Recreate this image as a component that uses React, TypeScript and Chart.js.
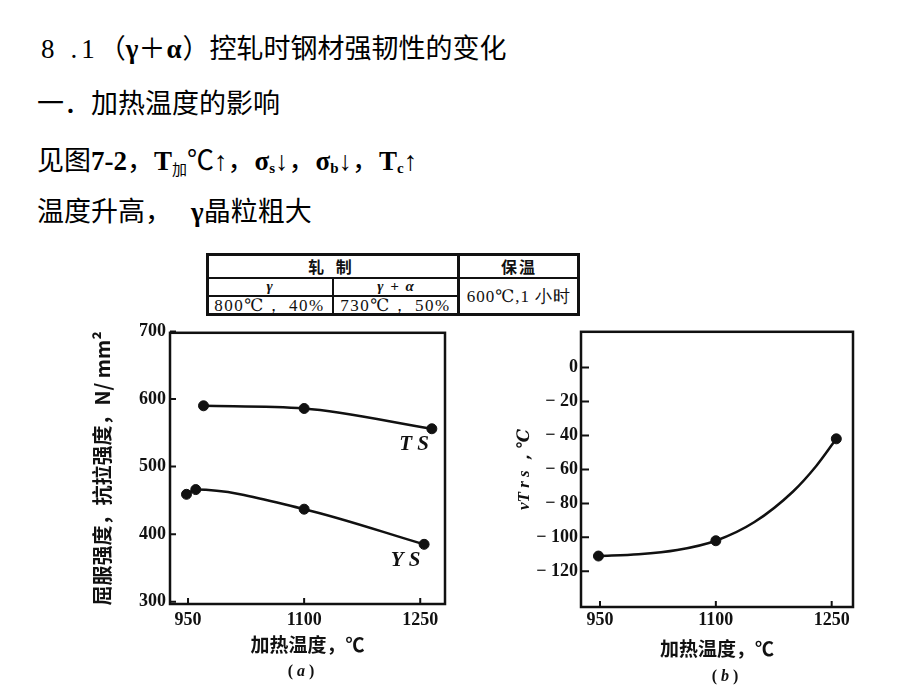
import React, { useEffect, useRef } from "react";
import { Chart, registerables } from "chart.js";

Chart.register(...registerables);

// ---------------- data ----------------
const heatingTempTicks = [950, 1100, 1250];
const strengthTicks = [300, 400, 500, 600, 700];
const tsTemps = [970, 1100, 1265];
const tsValues = [590, 586, 556];
const ysTemps = [948, 960, 1100, 1255];
const ysValues = [459, 466, 437, 385];
const vtrsTicks = [0, -20, -40, -60, -80, -100, -120];
const vtrsTemps = [948, 1100, 1256];
const vtrsValues = [-111, -102, -42];
// values read along the hand-drawn vTrs curve of the reference
const vtrsCurveTemps = [948, 1000, 1050, 1100, 1150, 1200, 1230, 1256];
const vtrsCurveValues = [-111, -110, -107.5, -102, -91, -73, -58, -42];
const curveNames = ["T S", "Y S"];
const curveNameTemps = [1242, 1231];
const curveNameValues = [533, 361];

const tableHeaders = ["轧 制", "保温"];
const phaseLabels = ["γ", "γ + α"];
const rollingConditions = ["800℃， 40%", "730℃， 50%"];
const holdingCondition = "600℃,1 小时";

// ---------------- styles ----------------
const INK = "#111";
const CJK = "'Noto Sans CJK SC', 'Noto Sans CJK JP', sans-serif";
const SERIF = "'Liberation Serif', 'DejaVu Serif', serif";

function framePlugin(xTicks: number[], yTicks: number[], xLen: number, yLen: number) {
  return {
    id: "frame",
    beforeDatasetsDraw(chart: any) {
      const { ctx, chartArea: a, scales } = chart;
      ctx.save();
      ctx.strokeStyle = INK;
      ctx.lineWidth = 2.5;
      ctx.strokeRect(a.left, a.top, a.right - a.left, a.bottom - a.top);
      ctx.lineWidth = 2;
      ctx.beginPath();
      xTicks.forEach((v) => {
        const p = scales.x.getPixelForValue(v);
        ctx.moveTo(p, a.bottom);
        ctx.lineTo(p, a.bottom - xLen);
      });
      yTicks.forEach((v) => {
        const p = scales.y.getPixelForValue(v);
        ctx.moveTo(a.left, p);
        ctx.lineTo(a.left + yLen, p);
      });
      ctx.stroke();
      ctx.restore();
    },
  };
}

const curveNamePlugin = {
  id: "curveNames",
  afterDatasetsDraw(chart: any) {
    const { ctx, scales } = chart;
    ctx.save();
    ctx.font = `italic bold 21px ${SERIF}`;
    ctx.fillStyle = INK;
    ctx.textAlign = "center";
    ctx.textBaseline = "middle";
    curveNames.forEach((n, i) => {
      ctx.fillText(n, scales.x.getPixelForValue(curveNameTemps[i]), scales.y.getPixelForValue(curveNameValues[i]));
    });
    ctx.restore();
  },
};

const lineStyle = {
  borderColor: INK,
  backgroundColor: INK,
  borderWidth: 2.5,
  pointRadius: 5,
  pointBorderWidth: 1,
  pointBackgroundColor: INK,
  pointBorderColor: INK,
  fill: false,
};

const tickFont = { family: SERIF, size: 18, weight: "bold" };
const axisTitleFont = { family: CJK, size: 19, weight: "bold", lineHeight: 1.2 };

function toPoints(xs: number[], ys: number[]) {
  return xs.map((x, i) => ({ x, y: ys[i] }));
}

function makeConfigA(): any {
  return {
    type: "line",
    data: {
      datasets: [
        { label: "TS", data: toPoints(tsTemps, tsValues), ...lineStyle, cubicInterpolationMode: "monotone" },
        { label: "YS", data: toPoints(ysTemps, ysValues), ...lineStyle, cubicInterpolationMode: "monotone" },
      ],
    },
    options: {
      responsive: false,
      animation: false,
      events: [],
      layout: { padding: { left: 0, top: 12, right: 15, bottom: 0 } },
      plugins: { legend: { display: false }, tooltip: { enabled: false } },
      scales: {
        x: {
          type: "linear",
          min: 926.7,
          max: 1282,
          afterBuildTicks: (s: any) => {
            s.ticks = heatingTempTicks.map((v) => ({ value: v }));
          },
          afterFit: (s: any) => {
            s.height = 86;
          },
          grid: { display: false, drawTicks: false },
          border: { display: false },
          ticks: { autoSkip: false, maxRotation: 0, padding: 6, color: INK, font: tickFont, callback: (v: any) => String(v) },
          title: { display: true, text: "加热温度，℃", color: INK, font: axisTitleFont, padding: { top: 0, bottom: 33.6 } },
        },
        y: {
          type: "linear",
          min: 296.7,
          max: 698,
          afterBuildTicks: (s: any) => {
            s.ticks = strengthTicks.map((v) => ({ value: v }));
          },
          afterFit: (s: any) => {
            s.width = 80;
          },
          grid: { display: false, drawTicks: false },
          border: { display: false },
          ticks: { autoSkip: false, padding: 4, color: INK, font: tickFont, callback: (v: any) => String(v) },
          title: {
            display: true,
            text: "屈服强度，抗拉强度，N/ mm²",
            color: INK,
            font: { family: CJK, size: 20, weight: "bold", lineHeight: 1.2 },
            padding: { top: 0, bottom: 0 },
          },
        },
      },
    },
    plugins: [framePlugin(heatingTempTicks, strengthTicks, 6, 6), curveNamePlugin],
  };
}

function makeConfigB(): any {
  return {
    type: "line",
    data: {
      datasets: [
        {
          label: "vTrs curve",
          data: toPoints(vtrsCurveTemps, vtrsCurveValues),
          ...lineStyle,
          pointRadius: 0,
          pointBorderWidth: 0,
          cubicInterpolationMode: "monotone",
        },
        { label: "vTrs", data: toPoints(vtrsTemps, vtrsValues), ...lineStyle, showLine: false },
      ],
    },
    options: {
      responsive: false,
      animation: false,
      events: [],
      layout: { padding: { left: 0, top: 12, right: 32, bottom: 0 } },
      plugins: { legend: { display: false }, tooltip: { enabled: false } },
      scales: {
        x: {
          type: "linear",
          min: 925.4,
          max: 1277.6,
          afterBuildTicks: (s: any) => {
            s.ticks = heatingTempTicks.map((v) => ({ value: v }));
          },
          afterFit: (s: any) => {
            s.height = 83;
          },
          grid: { display: false, drawTicks: false },
          border: { display: false },
          ticks: { autoSkip: false, maxRotation: 0, padding: 3, color: INK, font: tickFont, callback: (v: any) => String(v) },
          title: { display: true, text: "加热温度，℃", color: INK, font: axisTitleFont, padding: { top: 0, bottom: 30 } },
        },
        y: {
          type: "linear",
          min: -141,
          max: 21,
          afterBuildTicks: (s: any) => {
            s.ticks = vtrsTicks.map((v) => ({ value: v }));
          },
          afterFit: (s: any) => {
            s.width = 76;
          },
          grid: { display: false, drawTicks: false },
          border: { display: false },
          ticks: {
            autoSkip: false,
            padding: 3,
            color: INK,
            font: tickFont,
            callback: (v: any) => (v < 0 ? "− " + Math.abs(v) : String(v)),
          },
          title: {
            display: true,
            text: "vT r s ，℃",
            color: INK,
            font: { family: SERIF, size: 17, style: "italic", weight: "bold", lineHeight: 1.2 },
            padding: { top: 9.8, bottom: 0 },
          },
        },
      },
    },
    plugins: [framePlugin(heatingTempTicks, vtrsTicks, 6, 8)],
  };
}

function ChartCanvas(props: { make: () => any; left: number; top: number; width: number; height: number }) {
  const ref = useRef<HTMLCanvasElement | null>(null);
  useEffect(() => {
    const chart = new Chart(ref.current as HTMLCanvasElement, props.make());
    return () => chart.destroy();
  }, []);
  return (
    <canvas
      ref={ref}
      width={props.width}
      height={props.height}
      style={{ position: "absolute", left: props.left, top: props.top, width: props.width, height: props.height }}
    />
  );
}

const lineBase: React.CSSProperties = {
  position: "absolute",
  fontFamily: CJK,
  fontSize: 27,
  lineHeight: "27px",
  whiteSpace: "nowrap",
  color: "#000",
};
const serif: React.CSSProperties = { fontFamily: SERIF };
const serifBold: React.CSSProperties = { fontFamily: SERIF, fontWeight: "bold" };
const subCJK: React.CSSProperties = { fontSize: 15, position: "relative", top: 5 };
const subSerif: React.CSSProperties = { fontFamily: SERIF, fontWeight: "bold", fontSize: 15, position: "relative", top: 3 };

function Rule(p: { left: number; top: number; width: number; height: number }) {
  return <div style={{ position: "absolute", background: INK, ...p }} />;
}

function Cell(p: { left: number; top: number; width: number; height: number; children: any; style?: React.CSSProperties }) {
  return (
    <div
      style={{
        position: "absolute",
        left: p.left,
        top: p.top,
        width: p.width,
        height: p.height,
        display: "flex",
        alignItems: "center",
        justifyContent: "center",
        whiteSpace: "nowrap",
        color: INK,
        ...p.style,
      }}
    >
      {p.children}
    </div>
  );
}

function ConditionTable() {
  const L = 206, R = 580, T = 253, B = 315, H1 = 278, H2 = 295.5, C1 = 333, C2 = 458;
  return (
    <>
      <Rule left={L} top={T} width={R - L} height={3} />
      <Rule left={L} top={B - 2} width={R - L} height={3} />
      <Rule left={L} top={T} width={3} height={B - T} />
      <Rule left={R - 3} top={T} width={3} height={B - T} />
      <Rule left={L} top={H1 - 1} width={R - L} height={2} />
      <Rule left={L} top={H2 - 1} width={C2 - L} height={2} />
      <Rule left={C1 - 1} top={H1} width={2} height={B - H1} />
      <Rule left={C2 - 1} top={T} width={2.5} height={B - T} />
      <Cell left={L} top={T} width={C2 - L} height={H1 - T} style={{ fontFamily: CJK, fontWeight: "bold", fontSize: 16, letterSpacing: 4 }}>
        {tableHeaders[0]}
      </Cell>
      <Cell left={C2} top={T} width={R - C2} height={H1 - T} style={{ fontFamily: CJK, fontWeight: "bold", fontSize: 16, letterSpacing: 2 }}>
        {tableHeaders[1]}
      </Cell>
      <Cell left={L} top={H1} width={C1 - L} height={H2 - H1} style={{ fontFamily: SERIF, fontStyle: "italic", fontWeight: "bold", fontSize: 15 }}>
        {phaseLabels[0]}
      </Cell>
      <Cell left={C1} top={H1} width={C2 - C1} height={H2 - H1} style={{ fontFamily: SERIF, fontStyle: "italic", fontWeight: "bold", fontSize: 15, wordSpacing: 3 }}>
        {phaseLabels[1]}
      </Cell>
      <Cell left={L} top={H2} width={C1 - L} height={B - H2} style={{ fontFamily: SERIF, fontSize: 17, letterSpacing: 1.5 }}>
        {rollingConditions[0]}
      </Cell>
      <Cell left={C1} top={H2} width={C2 - C1} height={B - H2} style={{ fontFamily: SERIF, fontSize: 17, letterSpacing: 1.5 }}>
        {rollingConditions[1]}
      </Cell>
      <Cell left={C2} top={H1} width={R - C2} height={B - H1} style={{ fontFamily: SERIF, fontSize: 17, letterSpacing: 1 }}>
        {holdingCondition}
      </Cell>
    </>
  );
}

export default function App() {
  return (
    <div
      style={{
        position: "absolute",
        left: 0,
        top: 0,
        width: 920,
        height: 690,
        background: "#fff",
        overflow: "hidden",
      }}
    >
      <div style={{ ...lineBase, left: 41, top: 32.5 }}>
        <span style={serif}>8</span>
        <span style={{ ...serif, marginLeft: 16 }}>.</span>
        <span style={{ ...serif, marginLeft: 4 }}>1</span>
        <span style={{ marginLeft: 4 }}>（</span>
        <span style={serifBold}>γ</span>
        <span>＋</span>
        <span style={{ ...serifBold, marginLeft: 1 }}>α</span>
        <span style={{ marginLeft: 1 }}>）</span>
        <span>控轧时钢材强韧性的变化</span>
      </div>
      <div style={{ ...lineBase, left: 37, top: 87.5 }}>一．加热温度的影响</div>
      <div style={{ ...lineBase, left: 37, top: 144.5 }}>
        <span>见图</span>
        <span style={serifBold}>7-2</span>
        <span>，</span>
        <span style={serifBold}>T</span>
        <span style={subCJK}>加</span>
        <span>℃</span>
        <span style={serif}>↑</span>
        <span>，</span>
        <span style={serifBold}>σ</span>
        <span style={subSerif}>s</span>
        <span style={serif}>↓</span>
        <span>，</span>
        <span style={serifBold}>σ</span>
        <span style={subSerif}>b</span>
        <span style={serif}>↓</span>
        <span>，</span>
        <span style={serifBold}>T</span>
        <span style={subSerif}>c</span>
        <span style={serif}>↑</span>
      </div>
      <div style={{ ...lineBase, left: 37, top: 196 }}>
        <span>温度升高，</span>
        <span style={{ ...serifBold, marginLeft: 19 }}>γ</span>
        <span>晶粒粗大</span>
      </div>

      <ConditionTable />

      <ChartCanvas make={makeConfigA} left={90} top={318} width={370} height={372} />
      <ChartCanvas make={makeConfigB} left={505} top={318} width={380} height={372} />

      <div style={{ position: "absolute", left: 276, top: 661, width: 50, textAlign: "center", font: `bold 16px/20px ${SERIF}`, color: INK }}>
        ( <i>a</i> )
      </div>
      <div style={{ position: "absolute", left: 700, top: 666, width: 50, textAlign: "center", font: `bold 16px/20px ${SERIF}`, color: INK }}>
        ( <i>b</i> )
      </div>
    </div>
  );
}
